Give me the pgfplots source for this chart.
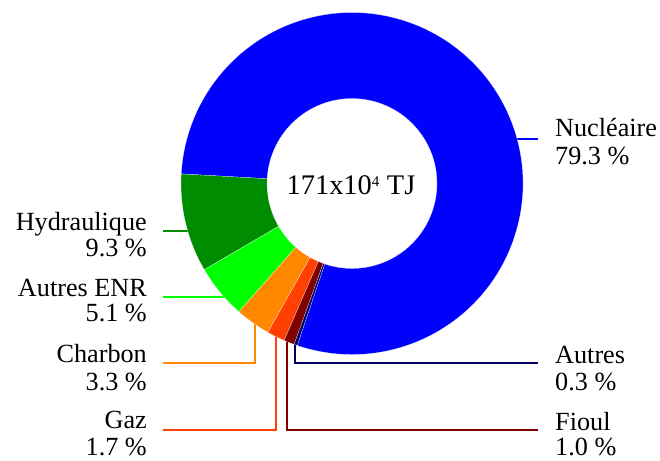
\documentclass[border=0pt]{standalone}
\usepackage{pgfplots}
\pgfplotsset{compat=1.18}
\usepackage{fontspec}
\setmainfont{Liberation Serif}

\definecolor{cNuc}{RGB}{0,0,255}
\definecolor{cHyd}{RGB}{0,140,0}
\definecolor{cENR}{RGB}{0,255,0}
\definecolor{cCha}{RGB}{255,136,0}
\definecolor{cGaz}{RGB}{255,64,0}
\definecolor{cFio}{RGB}{128,0,0}
\definecolor{cAut}{RGB}{0,0,100}

\newcommand{\cx}{352}
\newcommand{\cy}{277.5}
\newcommand{\slice}[3]{\fill[#1,draw=white,line width=0.15bp] ({\cx+171*cos(#2)},{\cy+171*sin(#2)}) arc[start angle=#2,end angle=#3,radius=171bp] -- ({\cx+85*cos(#3)},{\cy+85*sin(#3)}) arc[start angle=#3,end angle=#2,radius=85bp] -- cycle;}
\newcommand{\lab}{\fontsize{26.3}{27}\selectfont}

\begin{document}%
\begin{tikzpicture}
% shares in percent
\pgfmathsetmacro\aNuc{251.3}
\pgfmathsetmacro\aHyd{\aNuc+79.3*3.6}
\pgfmathsetmacro\aENR{\aHyd+9.3*3.6}
\pgfmathsetmacro\aCha{\aENR+5.1*3.6}
\pgfmathsetmacro\aGaz{\aCha+3.3*3.6}
\pgfmathsetmacro\aFio{\aGaz+1.7*3.6}
\pgfmathsetmacro\aAut{\aFio+1.0*3.6}
\pgfmathsetmacro\aEnd{\aAut+0.3*3.6}
\useasboundingbox (0,0) rectangle (660bp,461bp);
\begin{axis}[
  anchor=south west, at={(0,0)},
  scale only axis, width=660bp, height=461bp,
  xmin=0, xmax=660, ymin=0, ymax=461,
  hide axis, clip=false]
% leader lines
\draw[cNuc,line width=1.8bp] (510,322) -- (538,322);
\draw[cHyd,line width=1.8bp] (163,230) -- (192,230);
\draw[cENR,line width=1.8bp] (163,164) -- (230,164);
\draw[cCha,line width=1.8bp] (163,98) -- (255,98) -- (255,145);
\draw[cGaz,line width=1.8bp] (163,31) -- (276,31) -- (276,130);
\draw[cFio,line width=1.8bp] (538,31) -- (287,31) -- (287,125);
\draw[cAut,line width=1.8bp] (538,98) -- (295,98) -- (295,120);
% slices
\slice{cNuc}{\aNuc}{\aHyd}
\slice{cHyd}{\aHyd}{\aENR}
\slice{cENR}{\aENR}{\aCha}
\slice{cCha}{\aCha}{\aGaz}
\slice{cGaz}{\aGaz}{\aFio}
\slice{cFio}{\aFio}{\aAut}
\slice{cAut}{\aAut}{\aEnd}
% centre
\node[anchor=base,inner sep=0] at (351,266) {\fontsize{28.5}{30}\selectfont 171x10\textsuperscript{\fontsize{15}{15}\selectfont 4} TJ};
% labels right
\node[anchor=base west,inner sep=0] at (555,324) {\lab Nucléaire};
\node[anchor=base west,inner sep=0] at (555,296) {\lab 79.3 \%};
\node[anchor=base west,inner sep=0] at (555,97) {\lab Autres};
\node[anchor=base west,inner sep=0] at (555,70) {\lab 0.3 \%};
\node[anchor=base west,inner sep=0] at (555,31) {\lab Fioul};
\node[anchor=base west,inner sep=0] at (555,6) {\lab 1.0 \%};
% labels left
\node[anchor=base east,inner sep=0] at (147,230) {\lab Hydraulique};
\node[anchor=base east,inner sep=0] at (147,204) {\lab 9.3 \%};
\node[anchor=base east,inner sep=0] at (147,164) {\lab Autres ENR};
\node[anchor=base east,inner sep=0] at (147,139) {\lab 5.1 \%};
\node[anchor=base east,inner sep=0] at (147,98) {\lab Charbon};
\node[anchor=base east,inner sep=0] at (147,70) {\lab 3.3 \%};
\node[anchor=base east,inner sep=0] at (147,32) {\lab Gaz};
\node[anchor=base east,inner sep=0] at (147,6) {\lab 1.7 \%};
\end{axis}
\end{tikzpicture}%
\end{document}
